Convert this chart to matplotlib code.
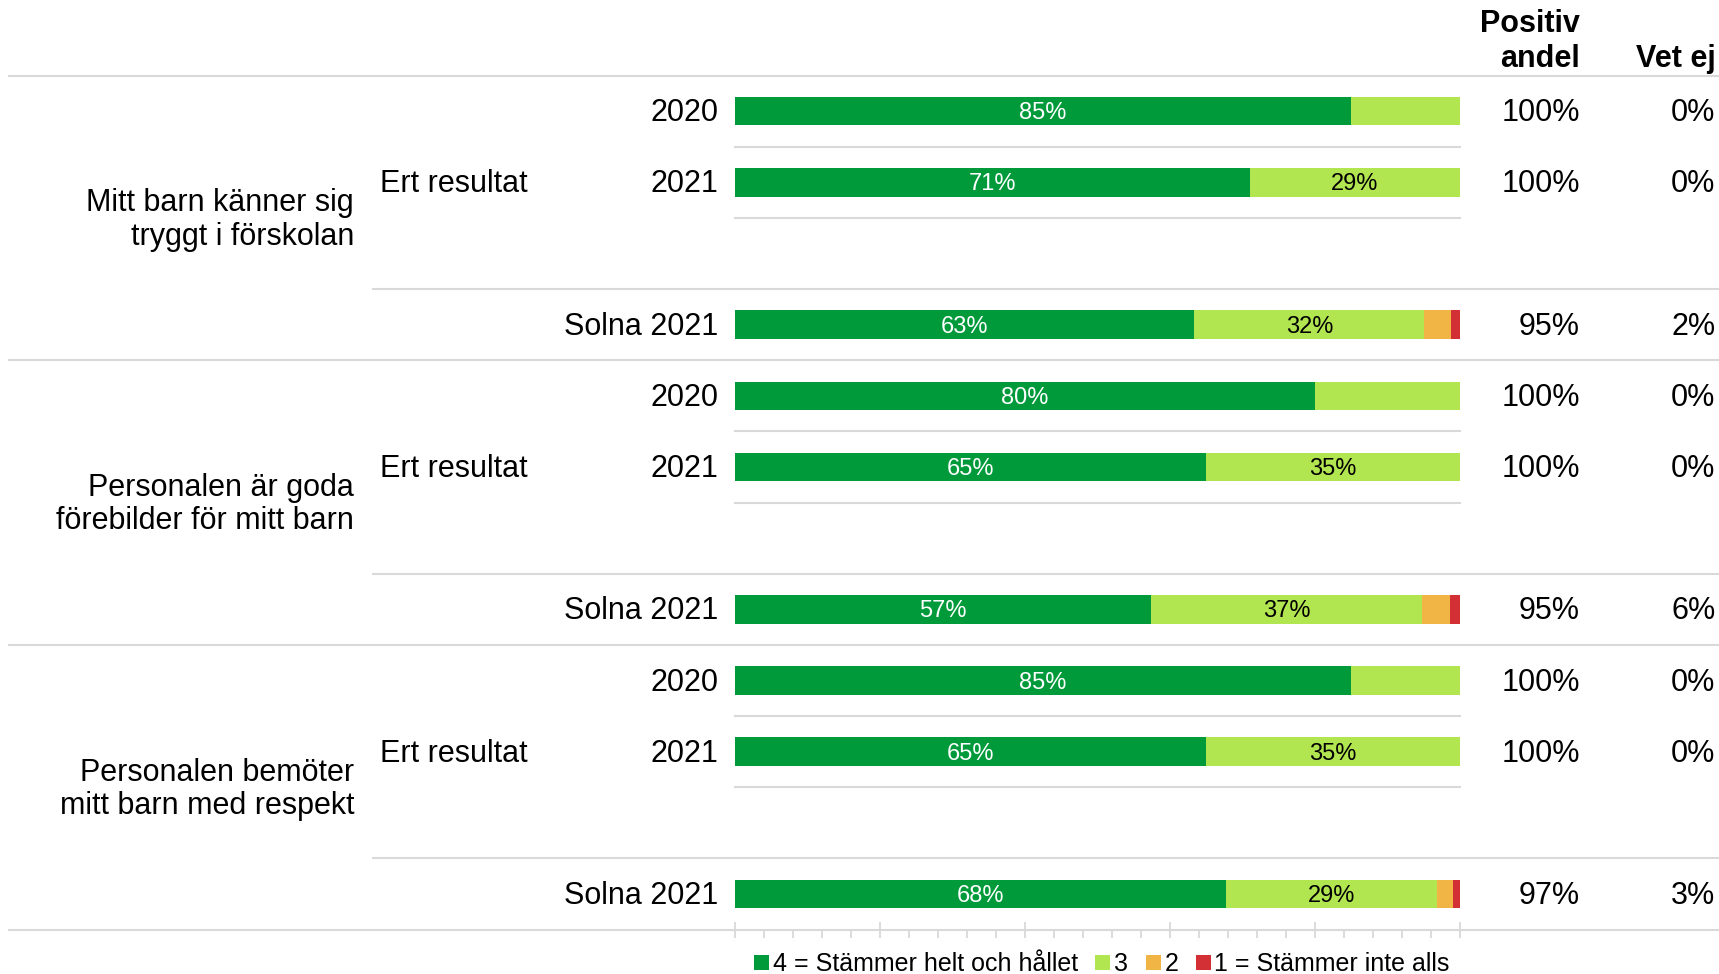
import matplotlib.pyplot as plt
from matplotlib.transforms import blended_transform_factory
from matplotlib.patches import Patch

plt.rcParams['font.family'] = ['Liberation Sans', 'DejaVu Sans']

# Frågor och rader
fragor = ["Mitt barn känner sig\ntryggt i förskolan",
          "Personalen är goda\nförebilder för mitt barn",
          "Personalen bemöter\nmitt barn med respekt"]
rader = ["2020", "2021", "Solna 2021"]

# Andel per svarsalternativ (i ordning fråga1: 2020, 2021, Solna, fråga2: ...)
svar_4 = [85, 71, 63.4, 80, 65, 57.4, 85, 65, 67.8]
svar_3 = [15, 29, 31.7, 20, 35, 37.4, 15, 35, 29.0]
svar_2 = [0, 0, 3.6, 0, 0, 3.8, 0, 0, 2.3]
svar_1 = [0, 0, 1.3, 0, 0, 1.4, 0, 0, 0.9]
positiv = [100, 100, 95, 100, 100, 95, 100, 100, 97]
vet_ej = [0, 0, 2, 0, 0, 6, 0, 0, 3]

legend_labels = ["4 = Stämmer helt och hållet", "3", "2", "1 = Stämmer inte alls"]
farger = ["#009A3A", "#B2E650", "#F0B545", "#D33035"]
text_farger = ["white", "black", "black", "white"]
grid = "#D9D9D9"
fs = 22
dy = 0.03  # liten nedflyttning av texten

fig = plt.figure(figsize=(17.19, 9.74), dpi=100)
ax = fig.add_axes([0.4273, 0.0456, 0.4220, 0.8768])

slot_offset = [0, 1, 3]
serier = [svar_4, svar_3, svar_2, svar_1]

for i in range(len(svar_4)):
    g, r = divmod(i, 3)
    y = 4 * g + slot_offset[r]
    left = 0
    for s, serie in enumerate(serier):
        v = serie[i]
        if v > 0:
            ax.barh(y, v, left=left, height=0.4, color=farger[s], linewidth=0)
            if v >= 25:
                ax.text(left + v / 2, y + dy, f"{round(v)}%", ha="center", va="center",
                        fontsize=17, color=text_farger[s])
        left += v

ax.set_xlim(0, 100)
ax.set_ylim(11.5, -0.5)
ax.set_yticks([])
for sp in ax.spines.values():
    sp.set_visible(False)
ax.set_xticks(range(0, 101, 20))
ax.set_xticks(range(0, 101, 4), minor=True)
ax.tick_params(axis="x", which="major", direction="inout", length=12, width=1.3,
               color=grid, labelbottom=False)
ax.tick_params(axis="x", which="minor", direction="out", length=6, width=1.3,
               color=grid)

tr = blended_transform_factory(fig.transFigure, ax.transData)

# linjer
for yl in [-0.5, 3.5, 7.5, 11.5]:
    ax.plot([0.005, 1.0], [yl, yl], transform=tr, color=grid, lw=1.5, clip_on=False)
for g in range(3):
    ax.plot([0.2168, 1.0], [4 * g + 2.5] * 2, transform=tr, color=grid, lw=1.5, clip_on=False)
    for yl in [4 * g + 0.5, 4 * g + 1.5]:
        ax.plot([0, 100], [yl, yl], color=grid, lw=1.5, clip_on=False)

# texter
for g, fraga in enumerate(fragor):
    ax.text(0.206, 4 * g + 1.5 + dy, fraga, transform=tr, ha="right", va="center",
            fontsize=fs, linespacing=1.15)
    ax.text(0.2213, 4 * g + 1 + dy, "Ert resultat", transform=tr, ha="left", va="center",
            fontsize=fs)
    for r, rad in enumerate(rader):
        i = 3 * g + r
        y = 4 * g + slot_offset[r] + dy
        ax.text(0.4177, y, rad, transform=tr, ha="right", va="center", fontsize=fs)
        ax.text(0.919, y, f"{positiv[i]}%", transform=tr, ha="right", va="center", fontsize=fs)
        ax.text(0.998, y, f"{vet_ej[i]}%", transform=tr, ha="right", va="center", fontsize=fs)

fig.text(0.919, 0.975, "Positiv", ha="right", va="center", fontsize=fs, fontweight="bold")
fig.text(0.919, 0.939, "andel", ha="right", va="center", fontsize=fs, fontweight="bold")
fig.text(0.998, 0.939, "Vet ej", ha="right", va="center", fontsize=fs, fontweight="bold")

handles = [Patch(facecolor=c, edgecolor="none") for c in farger]
fig.legend(handles, legend_labels, loc="center", bbox_to_anchor=(0.641, 0.010),
           ncol=4, frameon=False, fontsize=18, handlelength=0.6, handleheight=0.6,
           handletextpad=0.15, columnspacing=0.7, borderaxespad=0)

plt.savefig("out.png", dpi=100)
